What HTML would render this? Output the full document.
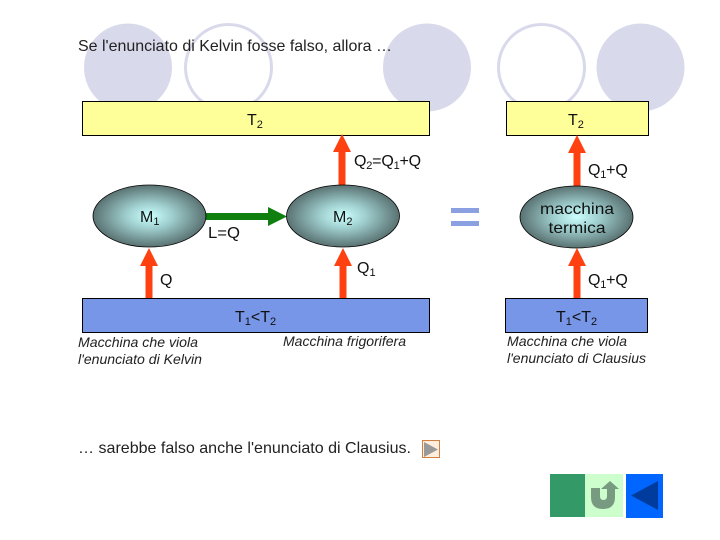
<!DOCTYPE html>
<html><head><meta charset="utf-8"><style>
html,body{margin:0;padding:0;background:#fff;width:720px;height:540px;overflow:hidden}
svg{display:block}
text{font-family:"Liberation Sans",sans-serif;fill:#111}
.b{font-size:16px;-webkit-text-stroke:.45px #111}
.s{font-size:11px}
.n{letter-spacing:-.2px}
.t{font-size:15.8px;fill:#222}
.i{font-size:13.9px;font-style:italic;fill:#222}
</style></head><body>
<svg width="720" height="540" viewBox="0 0 720 540" xmlns="http://www.w3.org/2000/svg">
<defs>
<radialGradient id="g"><stop offset="0" stop-color="#ccffff"/><stop offset="0.4" stop-color="#a0cfcf"/><stop offset="1" stop-color="#5a7272"/></radialGradient>
</defs>
<circle cx="128" cy="67.500" r="44" fill="#d9d9ec"/>
<circle cx="228.500" cy="67.500" r="43" fill="#fff" stroke="#d9d9ec" stroke-width="3"/>
<circle cx="427" cy="67.500" r="44" fill="#d9d9ec"/>
<circle cx="541.500" cy="67.500" r="43" fill="#fff" stroke="#d9d9ec" stroke-width="3"/>
<circle cx="640.500" cy="67.500" r="44" fill="#d9d9ec"/>

<text class="t" x="78" y="51" textLength="314" lengthAdjust="spacingAndGlyphs">Se l'enunciato di Kelvin fosse falso, allora …</text>

<rect x="82.500" y="101.500" width="347" height="34" fill="#ffff99" stroke="#000"/>
<rect x="506.500" y="101.500" width="142" height="34" fill="#ffff99" stroke="#000"/>
<rect x="82.500" y="298.500" width="347" height="34" fill="#7896e8" stroke="#000"/>
<rect x="505.500" y="298.500" width="142" height="34" fill="#7896e8" stroke="#000"/>

<g fill="#ff4010">
<path d="M342 134L351 152H345.500V186H338.500V152H333Z"/>
<path d="M577 135L586 153H580.500V187H573.500V153H568Z"/>
<path d="M149 248L158 266H152.500V298H145.500V266H140Z"/>
<path d="M343 248L352 266H346.500V298H339.500V266H334Z"/>
<path d="M577 248L586 266H580.500V298H573.500V266H568Z"/>
</g>
<path d="M206 213H268V207L287 216.500L268 226V220H206Z" fill="#0f7f0f"/>

<ellipse cx="149.500" cy="216" rx="56.500" ry="31" fill="url(#g)" stroke="#000" stroke-width=".8"/>
<ellipse cx="343" cy="216" rx="56.500" ry="31" fill="url(#g)" stroke="#000" stroke-width=".8"/>
<ellipse cx="576.500" cy="217" rx="56.500" ry="31" fill="url(#g)" stroke="#000" stroke-width=".8"/>

<rect x="451" y="208" width="28" height="5" fill="#8aa0e0"/>
<rect x="451" y="221" width="28" height="5" fill="#8aa0e0"/>

<text class="b" x="247" y="125">T<tspan class="s" dy="3">2</tspan></text>
<text class="b" x="568" y="125">T<tspan class="s" dy="3">2</tspan></text>
<text class="b n" x="354" y="166">Q<tspan class="s" dy="3">2</tspan><tspan dy="-3">=Q</tspan><tspan class="s" dy="3">1</tspan><tspan dy="-3">+Q</tspan></text>
<text class="b n" x="588" y="175">Q<tspan class="s" dy="3">1</tspan><tspan dy="-3">+Q</tspan></text>
<text class="b" x="140" y="222">M<tspan class="s" dy="3">1</tspan></text>
<text class="b" x="333" y="222">M<tspan class="s" dy="3">2</tspan></text>
<text class="b" x="208" y="238" textLength="32" lengthAdjust="spacingAndGlyphs">L=Q</text>
<text class="b" x="160" y="285">Q</text>
<text class="b" x="357" y="273">Q<tspan class="s" dy="3">1</tspan></text>
<text class="b n" x="588" y="285">Q<tspan class="s" dy="3">1</tspan><tspan dy="-3">+Q</tspan></text>
<text class="b" x="235" y="322">T<tspan class="s" dy="3">1</tspan><tspan dy="-3">&lt;T</tspan><tspan class="s" dy="3">2</tspan></text>
<text class="b" x="556" y="322">T<tspan class="s" dy="3">1</tspan><tspan dy="-3">&lt;T</tspan><tspan class="s" dy="3">2</tspan></text>
<text class="b" x="577" y="214" text-anchor="middle" textLength="74" lengthAdjust="spacingAndGlyphs">macchina</text>
<text class="b" x="577" y="233" text-anchor="middle" textLength="57" lengthAdjust="spacingAndGlyphs">termica</text>

<text class="i" x="78" y="347" textLength="120" lengthAdjust="spacingAndGlyphs">Macchina che viola</text>
<text class="i" x="78" y="364" textLength="124" lengthAdjust="spacingAndGlyphs">l'enunciato di Kelvin</text>
<text class="i" x="283" y="346" textLength="123" lengthAdjust="spacingAndGlyphs">Macchina frigorifera</text>
<text class="i" x="507" y="346" textLength="120" lengthAdjust="spacingAndGlyphs">Macchina che viola</text>
<text class="i" x="507" y="363" textLength="139" lengthAdjust="spacingAndGlyphs">l'enunciato di Clausius</text>

<text class="t" x="78" y="453" textLength="333" lengthAdjust="spacingAndGlyphs">… sarebbe falso anche l'enunciato di Clausius.</text>

<rect x="422.500" y="440.500" width="17" height="17" fill="#ffeedd" stroke="#d08040"/>
<path d="M424 442L438 449.500L424 457Z" fill="#999"/>

<rect x="550" y="474" width="35" height="43" fill="#339966"/>
<rect x="585" y="474" width="38" height="43" fill="#ccffcc"/>
<rect x="626" y="474" width="37" height="44" fill="#0066ff"/>
<path d="M631 495.500L658 481V510Z" fill="#003c9e"/>
<path d="M591 488H600V496Q600 500 603.500 500Q607 500 607 496V489H601L610 481L619 489H615V497Q615 509 603 509Q591 509 591 497Z" fill="#779a80"/>
</svg>
</body></html>
